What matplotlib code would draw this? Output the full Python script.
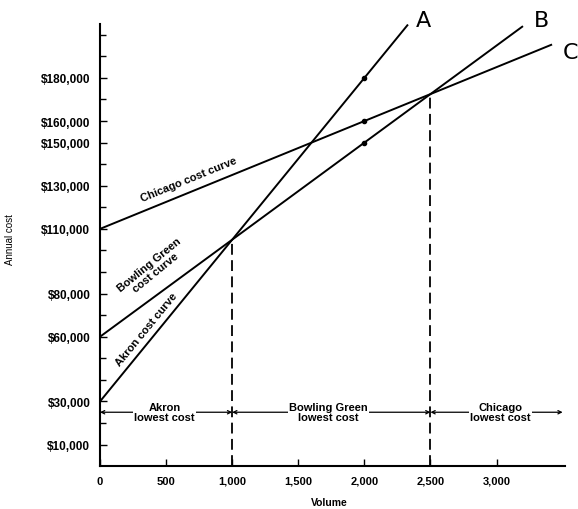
import numpy as np
import matplotlib
matplotlib.use("Agg")
import matplotlib.pyplot as plt
from math import atan2, degrees

plt.rcParams['font.family'] = ['Liberation Sans', 'DejaVu Sans']

# fixed cost ($) and variable cost ($/unit) for each site
sites = ["Akron", "Bowling Green", "Chicago"]
fixed_cost = [30000, 60000, 110000]
unit_cost = [75, 45, 25]
line_end = [2330, 3200, 3420]
line_tags = ["A", "B", "C"]

check_volume = 2000
crossovers = [1000, 2500]

ytick_values = [10000, 30000, 60000, 80000, 110000, 130000, 150000, 160000, 180000]
ytick_labels = ["$10,000", "$30,000", "$60,000", "$80,000", "$110,000",
                "$130,000", "$150,000", "$160,000", "$180,000"]
xtick_values = [0, 500, 1000, 1500, 2000, 2500, 3000]
xtick_labels = ["0", "500", "1,000", "1,500", "2,000", "2,500", "3,000"]

region_level = 25000
region_bounds = [0, 1000, 2500, 3500]
region_text = ["Akron\nlowest cost", "Bowling Green\nlowest cost", "Chicago\nlowest cost"]
region_text_x = [490, 1730, 3030]


def cost(i, v):
    return fixed_cost[i] + unit_cost[i] * v


fig = plt.figure(figsize=(5.78, 5.10), dpi=100)
ax = fig.add_axes([0.173, 0.084, 0.805, 0.867])
ax.set_xlim(0, 3520)
ax.set_ylim(0, 205000)

for s in ["top", "right"]:
    ax.spines[s].set_visible(False)
for s in ["left", "bottom"]:
    ax.spines[s].set_linewidth(1.5)

# cost lines
for i in range(3):
    v = np.array([0, line_end[i]])
    ax.plot(v, cost(i, v), color="black", lw=1.4, solid_capstyle="butt")
    ax.plot(check_volume, cost(i, check_volume), "o", color="black", ms=3)

# handwritten line tags
tag_pos = [(2450, 207000), (3340, 207000), (3560, 192000)]
for t, (tx, ty) in zip(line_tags, tag_pos):
    ax.text(tx, ty, t, fontsize=16, family="DejaVu Sans", ha="center", va="center",
            clip_on=False)

# crossover points
ax.plot([crossovers[0], crossovers[0]], [0, cost(0, crossovers[0])],
        color="black", lw=1.3, ls=(0, (6, 3)))
ax.plot([crossovers[1], crossovers[1]], [0, cost(2, crossovers[1])],
        color="black", lw=1.3, ls=(0, (6, 3)))


def line_angle(i):
    p = ax.transData.transform([(0, cost(i, 0)), (1000, cost(i, 1000))])
    return degrees(atan2(p[1][1] - p[0][1], p[1][0] - p[0][0]))


txt_style = dict(fontsize=8, fontweight="bold", ha="center", va="center",
                 rotation_mode="anchor")
ax.text(670, cost(2, 670) + 6500, "Chicago cost curve", rotation=line_angle(2), **txt_style)
ax.text(400, cost(1, 400) + 14000, "Bowling Green\ncost curve", rotation=line_angle(1) + 3,
        linespacing=1.0, **txt_style)
ax.text(350, cost(0, 350) + 7500, "Akron cost curve", rotation=line_angle(0), **txt_style)

# lowest-cost regions
for a, b in zip(region_bounds[:-1], region_bounds[1:]):
    ax.annotate("", xy=(a, region_level), xytext=(b, region_level),
                arrowprops=dict(arrowstyle="<->", lw=0.9, color="black",
                                shrinkA=0, shrinkB=0, mutation_scale=6))
for tx, t in zip(region_text_x, region_text):
    ax.text(tx, region_level, t, fontsize=8, fontweight="bold", ha="center",
            va="center", linespacing=1.0,
            bbox=dict(facecolor="white", edgecolor="none", pad=1))

ax.set_yticks(np.arange(10000, 205000, 10000), minor=True)
ax.set_yticks(ytick_values)
ax.set_yticklabels(ytick_labels, fontsize=8.5, fontweight="bold")
ax.set_xticks(xtick_values)
ax.set_xticklabels(xtick_labels, fontsize=8, fontweight="bold")
ax.tick_params(axis="both", direction="in", length=5, width=1.0, pad=7)
ax.tick_params(axis="y", which="minor", direction="in", length=4, width=1.0)

fig.text(0.018, 0.53, "Annual cost", rotation=90, fontsize=7, ha="center", va="center")
fig.text(0.57, 0.014, "Volume", fontsize=7.5, fontweight="bold", ha="center", va="center")

fig.savefig("out.png", dpi=100)
